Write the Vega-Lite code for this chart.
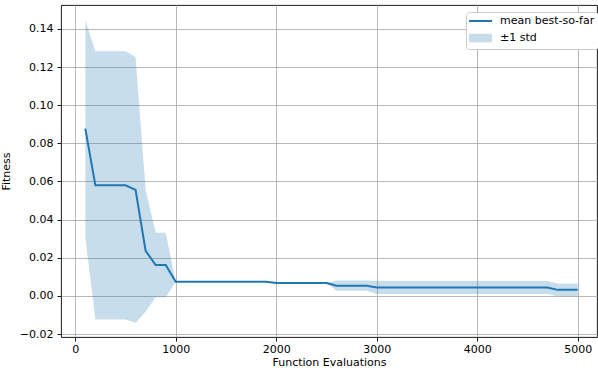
{
  "$schema": "https://vega.github.io/schema/vega-lite/v6.json",
  "autosize": {"type": "none"},
  "width": 536,
  "height": 332,
  "padding": {"left": 61, "top": 5, "right": 1, "bottom": 37},
  "background": "white",
  "config": {
    "font": "DejaVu Sans",
    "view": {"stroke": "#000000", "strokeWidth": 0.9},
    "axis": {
      "labelFont": "DejaVu Sans", "labelFontSize": 11, "labelColor": "#000000",
      "titleFont": "DejaVu Sans", "titleFontSize": 11, "titleFontWeight": "normal", "titleColor": "#000000",
      "domain": false, "tickColor": "#000000", "tickSize": 4, "tickWidth": 0.9,
      "grid": true, "gridColor": "#b0b0b0", "gridWidth": 0.9
    },
    "legend": {
      "orient": "none",
      "legendX": 405,
      "legendY": 7,
      "fillColor": "#ffffff",
      "strokeColor": "#cccccc",
      "cornerRadius": 3,
      "padding": 3,
      "labelFont": "DejaVu Sans",
      "labelFontSize": 11,
      "labelColor": "#000000",
      "labelOffset": 19,
      "symbolSize": 100,
      "symbolStrokeWidth": 2,
      "rowPadding": 4
    }
  },
  "data": {"values": [
    {"x": 100, "mean": 0.0877, "lo": 0.0307, "hi": 0.1445},
    {"x": 200, "mean": 0.0580, "lo": -0.0123, "hi": 0.1283},
    {"x": 300, "mean": 0.0580, "lo": -0.0123, "hi": 0.1283},
    {"x": 400, "mean": 0.0580, "lo": -0.0123, "hi": 0.1283},
    {"x": 500, "mean": 0.0580, "lo": -0.0123, "hi": 0.1283},
    {"x": 600, "mean": 0.0556, "lo": -0.0140, "hi": 0.1252},
    {"x": 700, "mean": 0.0237, "lo": -0.0083, "hi": 0.0557},
    {"x": 800, "mean": 0.0162, "lo": -0.0007, "hi": 0.0331},
    {"x": 900, "mean": 0.0162, "lo": -0.0007, "hi": 0.0331},
    {"x": 1000, "mean": 0.0074, "lo": 0.0074, "hi": 0.0074},
    {"x": 1100, "mean": 0.0074, "lo": 0.0074, "hi": 0.0074},
    {"x": 1200, "mean": 0.0074, "lo": 0.0074, "hi": 0.0074},
    {"x": 1300, "mean": 0.0074, "lo": 0.0074, "hi": 0.0074},
    {"x": 1400, "mean": 0.0074, "lo": 0.0074, "hi": 0.0074},
    {"x": 1500, "mean": 0.0074, "lo": 0.0074, "hi": 0.0074},
    {"x": 1600, "mean": 0.0074, "lo": 0.0074, "hi": 0.0074},
    {"x": 1700, "mean": 0.0074, "lo": 0.0074, "hi": 0.0074},
    {"x": 1800, "mean": 0.0074, "lo": 0.0074, "hi": 0.0074},
    {"x": 1900, "mean": 0.0074, "lo": 0.0074, "hi": 0.0074},
    {"x": 2000, "mean": 0.0068, "lo": 0.0068, "hi": 0.0068},
    {"x": 2100, "mean": 0.0068, "lo": 0.0068, "hi": 0.0068},
    {"x": 2200, "mean": 0.0068, "lo": 0.0068, "hi": 0.0068},
    {"x": 2300, "mean": 0.0068, "lo": 0.0068, "hi": 0.0068},
    {"x": 2400, "mean": 0.0068, "lo": 0.0068, "hi": 0.0068},
    {"x": 2500, "mean": 0.0068, "lo": 0.0068, "hi": 0.0068},
    {"x": 2600, "mean": 0.0054, "lo": 0.0027, "hi": 0.0081},
    {"x": 2700, "mean": 0.0054, "lo": 0.0027, "hi": 0.0081},
    {"x": 2800, "mean": 0.0054, "lo": 0.0027, "hi": 0.0081},
    {"x": 2900, "mean": 0.0054, "lo": 0.0027, "hi": 0.0081},
    {"x": 3000, "mean": 0.0044, "lo": 0.0010, "hi": 0.0078},
    {"x": 3100, "mean": 0.0044, "lo": 0.0010, "hi": 0.0078},
    {"x": 3200, "mean": 0.0044, "lo": 0.0010, "hi": 0.0078},
    {"x": 3300, "mean": 0.0044, "lo": 0.0010, "hi": 0.0078},
    {"x": 3400, "mean": 0.0044, "lo": 0.0010, "hi": 0.0078},
    {"x": 3500, "mean": 0.0044, "lo": 0.0010, "hi": 0.0078},
    {"x": 3600, "mean": 0.0044, "lo": 0.0010, "hi": 0.0078},
    {"x": 3700, "mean": 0.0044, "lo": 0.0010, "hi": 0.0078},
    {"x": 3800, "mean": 0.0044, "lo": 0.0010, "hi": 0.0078},
    {"x": 3900, "mean": 0.0044, "lo": 0.0010, "hi": 0.0078},
    {"x": 4000, "mean": 0.0044, "lo": 0.0010, "hi": 0.0078},
    {"x": 4100, "mean": 0.0044, "lo": 0.0010, "hi": 0.0078},
    {"x": 4200, "mean": 0.0044, "lo": 0.0010, "hi": 0.0078},
    {"x": 4300, "mean": 0.0044, "lo": 0.0010, "hi": 0.0078},
    {"x": 4400, "mean": 0.0044, "lo": 0.0010, "hi": 0.0078},
    {"x": 4500, "mean": 0.0044, "lo": 0.0010, "hi": 0.0078},
    {"x": 4600, "mean": 0.0044, "lo": 0.0010, "hi": 0.0078},
    {"x": 4700, "mean": 0.0044, "lo": 0.0010, "hi": 0.0078},
    {"x": 4800, "mean": 0.0032, "lo": -0.0002, "hi": 0.0066},
    {"x": 4900, "mean": 0.0032, "lo": -0.0002, "hi": 0.0066},
    {"x": 5000, "mean": 0.0032, "lo": -0.0002, "hi": 0.0066}
  ]},
  "encoding": {
    "x": {
      "field": "x", "type": "quantitative",
      "scale": {"domain": [-142, 5192], "nice": false, "zero": false},
      "axis": {"values": [0, 1000, 2000, 3000, 4000, 5000], "format": "d", "title": "Function Evaluations", "labelPadding": 2, "titlePadding": 2}
    }
  },
  "layer": [
    {
      "mark": {"type": "area", "opacity": 0.25, "color": "#1f77b4"},
      "encoding": {
        "y": {
          "field": "lo", "type": "quantitative",
          "scale": {"domain": [-0.0215, 0.1525], "nice": false, "zero": false},
          "axis": {"values": [-0.02, 0, 0.02, 0.04, 0.06, 0.08, 0.1, 0.12, 0.14], "format": ".2f", "title": "Fitness", "labelPadding": 4, "titlePadding": 8}
        },
        "y2": {"field": "hi"},
        "color": {
          "datum": "±1 std", "type": "nominal",
          "scale": {"domain": ["mean best-so-far", "±1 std"], "range": ["#1f77b4", "#1f77b4"]},
          "legend": {
            "title": null,
            "encode": {
              "symbols": {
                "update": {
                  "shape": {"signal": "datum.value == 'mean best-so-far' ? 'M-1.2,0H3.4' : 'M-1.0,-0.65H3.2V0.65H-1.0Z'"},
                  "opacity": {"signal": "datum.value == 'mean best-so-far' ? 1 : 0.25"}
                }
              }
            }
          }
        }
      }
    },
    {
      "mark": {"type": "line", "color": "#1f77b4", "strokeWidth": 2},
      "encoding": {
        "y": {"field": "mean", "type": "quantitative"},
        "color": {
          "datum": "mean best-so-far", "type": "nominal",
          "legend": {
            "title": null,
            "encode": {
              "symbols": {
                "update": {
                  "shape": {"signal": "datum.value == 'mean best-so-far' ? 'M-1.2,0H3.4' : 'M-1.0,-0.65H3.2V0.65H-1.0Z'"},
                  "opacity": {"signal": "datum.value == 'mean best-so-far' ? 1 : 0.25"}
                }
              }
            }
          }
        }
      }
    }
  ]
}
